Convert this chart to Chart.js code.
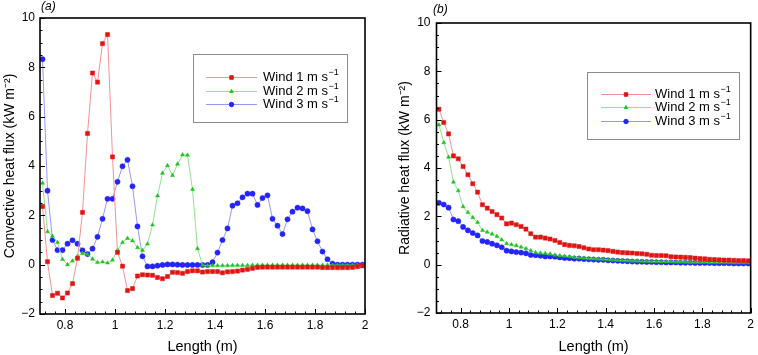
<!DOCTYPE html>
<html>
<head>
<meta charset="utf-8">
<script src="https://cdn.jsdelivr.net/npm/chart.js@4/dist/chart.umd.min.js"></script>
<style>
  html, body { margin: 0; padding: 0; background: #fff; }
  #wrap { position: relative; width: 758px; height: 355px; }
  canvas { position: absolute; top: 0; }
  #convChart { left: 0; }
  #radChart { left: 380px; }
</style>
</head>
<body>
<div id="wrap">
  <canvas id="convChart" width="380" height="355"></canvas>
  <canvas id="radChart" width="378" height="355"></canvas>
</div>
<script>
// sample positions along the plate (m)
const lengths = [0.71,0.73,0.75,0.77,0.79,0.81,0.83,0.85,0.87,0.89,0.91,0.93,0.95,0.97,0.99,
  1.01,1.03,1.05,1.07,1.09,1.11,1.13,1.15,1.17,1.19,1.21,1.23,1.25,1.27,1.29,
  1.31,1.33,1.35,1.37,1.39,1.41,1.43,1.45,1.47,1.49,1.51,1.53,1.55,1.57,1.59,
  1.61,1.63,1.65,1.67,1.69,1.71,1.73,1.75,1.77,1.79,1.81,1.83,1.85,1.87,1.89,
  1.91,1.93,1.95,1.97,1.99];

const seriesNames = ['Wind 1 m s\u207B\u00B9', 'Wind 2 m s\u207B\u00B9', 'Wind 3 m s\u207B\u00B9'];

// (a) convective heat flux, kW m-2
const convWind1 = [2.36,0.12,-1.25,-1.16,-1.35,-1.15,-0.77,0.26,2.12,5.32,7.77,7.40,8.96,9.33,4.37,
  0.50,-0.06,-1.05,-0.97,-0.46,-0.41,-0.42,-0.43,-0.52,-0.57,-0.48,-0.31,-0.32,-0.35,-0.28,
  -0.25,-0.25,-0.30,-0.28,-0.28,-0.28,-0.33,-0.29,-0.28,-0.26,-0.22,-0.19,-0.15,-0.11,-0.10,
  -0.10,-0.10,-0.10,-0.10,-0.10,-0.10,-0.10,-0.10,-0.10,-0.10,-0.10,-0.12,-0.12,-0.12,-0.12,
  -0.12,-0.12,-0.11,-0.08,-0.05];
const convWind2 = [3.31,1.34,1.16,0.90,0.22,0.00,0.15,0.35,0.46,0.42,0.23,0.09,0.11,0.07,0.19,
  0.59,0.90,1.07,0.97,0.69,0.58,0.84,1.61,2.79,3.71,4.02,3.62,4.08,4.45,4.44,
  3.05,0.65,-0.02,-0.04,-0.04,-0.04,-0.04,-0.04,-0.03,-0.03,-0.03,-0.03,-0.02,-0.02,-0.02,
  -0.02,-0.02,-0.02,-0.02,-0.02,-0.02,-0.02,-0.02,-0.02,-0.02,-0.02,-0.02,-0.02,-0.02,-0.02,
  -0.02,-0.02,-0.02,-0.02,-0.02];
const convWind3 = [8.33,3.00,1.00,0.59,0.59,0.85,0.99,0.85,0.58,0.43,0.65,1.13,1.86,2.67,2.67,
  3.36,3.99,4.25,3.18,1.55,0.34,-0.07,-0.07,-0.04,-0.01,0.01,0.01,0.00,-0.01,-0.01,
  -0.01,-0.01,-0.01,-0.01,0.10,0.49,1.00,1.47,2.39,2.49,2.73,2.88,2.88,2.42,2.70,
  2.81,1.86,1.58,1.24,1.84,2.15,2.31,2.28,2.17,1.43,0.95,0.53,0.22,0.04,0.00,
  0.00,0.00,0.00,0.00,0.00];

// (b) radiative heat flux, kW m-2
const radWind1 = [6.43,5.88,5.41,4.50,4.38,4.06,3.72,3.35,3.00,2.48,2.34,2.20,2.07,1.93,1.69,
  1.72,1.65,1.58,1.47,1.28,1.14,1.14,1.10,1.06,1.00,0.92,0.83,0.80,0.78,0.75,
  0.70,0.65,0.62,0.62,0.60,0.58,0.55,0.52,0.50,0.49,0.48,0.46,0.45,0.43,0.39,
  0.38,0.38,0.37,0.33,0.32,0.31,0.30,0.29,0.27,0.25,0.24,0.22,0.21,0.20,0.19,
  0.19,0.18,0.17,0.17,0.16];
const radWind2 = [5.79,5.05,4.45,3.42,3.06,2.40,2.16,1.95,1.75,1.42,1.35,1.27,1.17,1.03,0.87,
  0.83,0.79,0.73,0.67,0.58,0.50,0.48,0.47,0.44,0.40,0.37,0.35,0.33,0.30,0.28,
  0.27,0.25,0.24,0.23,0.22,0.20,0.19,0.18,0.17,0.16,0.15,0.15,0.14,0.14,0.13,
  0.13,0.12,0.12,0.12,0.11,0.11,0.11,0.10,0.10,0.10,0.10,0.09,0.09,0.09,0.09,
  0.09,0.08,0.08,0.08,0.08];
const radWind3 = [2.56,2.49,2.36,1.87,1.80,1.56,1.42,1.31,1.21,0.98,0.94,0.87,0.80,0.72,0.58,
  0.55,0.52,0.50,0.47,0.40,0.39,0.37,0.34,0.34,0.33,0.30,0.28,0.27,0.25,0.25,
  0.23,0.22,0.21,0.20,0.20,0.18,0.17,0.16,0.15,0.14,0.13,0.12,0.12,0.11,0.11,
  0.10,0.10,0.09,0.09,0.09,0.08,0.08,0.08,0.07,0.07,0.07,0.07,0.06,0.06,0.06,
  0.06,0.05,0.05,0.05,0.05];

const lengthTicks = [0.8, 1.0, 1.2, 1.4, 1.6, 1.8, 2.0];
const fluxTicks = [-2, 0, 2, 4, 6, 8, 10];

Chart.defaults.font.family = '"Liberation Sans", Arial, Helvetica, sans-serif';
Chart.defaults.color = '#000';

const styles = [
  { line: '#f29494', mark: '#e01414', shape: 'rect', r: 2.9 },
  { line: '#8ee68e', mark: '#1ec41e', shape: 'triangle', r: 2.3 },
  { line: '#9898f4', mark: '#2424ff', shape: 'circle', r: 2.6 },
];

function fmtTick(v) {
  const r = Math.round(v * 10) / 10;
  return r < 0 ? '\u2212' + Math.abs(r) : String(r);
}

// text with a trailing unicode superscript drawn as a real raised part
function drawSupText(ctx, text, x, y, size) {
  const m = text.match(/^(.*?)([\u207B\u00B9\u00B2]+)$/);
  const base = m ? m[1] : text;
  ctx.font = size + 'px "Liberation Sans", Arial, sans-serif';
  ctx.textBaseline = 'middle';
  ctx.textAlign = 'left';
  ctx.fillText(base, x, y);
  if (m) {
    const sup = m[2].replace('\u207B', '\u2212').replace('\u00B9', '1').replace('\u00B2', '2');
    const w = ctx.measureText(base).width;
    ctx.font = Math.round(size * 0.7) + 'px "Liberation Sans", Arial, sans-serif';
    ctx.fillText(sup, x + w + 0.5, y - size * 0.36);
  }
}

const innerTicks = {
  id: 'innerTicks',
  afterDraw(chart) {
    const { ctx, chartArea: a, scales: { x, y } } = chart;
    ctx.save();
    ctx.strokeStyle = '#000';
    ctx.lineWidth = 1;
    ctx.beginPath();
    for (let k = 18; k <= 50; k++) {
      const px = Math.round(x.getPixelForValue(k * 0.04)) + 0.5;
      const len = k % 5 === 0 ? 5 : 2.5;
      ctx.moveTo(px, a.bottom);
      ctx.lineTo(px, a.bottom - len);
    }
    for (let k = -4; k <= 20; k++) {
      const py = Math.round(y.getPixelForValue(k * 0.5)) + 0.5;
      const len = k % 4 === 0 ? 5 : 2.5;
      ctx.moveTo(a.left, py);
      ctx.lineTo(a.left + len, py);
    }
    ctx.stroke();
    ctx.lineWidth = 1.6;
    ctx.strokeRect(a.left, a.top, a.right - a.left, a.bottom - a.top);
    ctx.restore();
  }
};

const boxLegend = {
  id: 'boxLegend',
  afterDraw(chart, args, o) {
    const ctx = chart.ctx;
    ctx.save();
    ctx.fillStyle = '#fff';
    ctx.fillRect(o.box[0], o.box[1], o.box[2], o.box[3]);
    ctx.strokeStyle = '#8c8c8c';
    ctx.lineWidth = 1;
    ctx.strokeRect(o.box[0] + 0.5, o.box[1] + 0.5, o.box[2], o.box[3]);
    chart.data.datasets.forEach((ds, i) => {
      const yy = o.rows[i] + 0.5;
      ctx.strokeStyle = ds.borderColor;
      ctx.lineWidth = 1;
      ctx.beginPath();
      ctx.moveTo(o.lineX[0], yy);
      ctx.lineTo(o.lineX[1], yy);
      ctx.stroke();
      ctx.fillStyle = ds.pointBackgroundColor;
      ctx.strokeStyle = ds.pointBorderColor;
      Chart.helpers.drawPoint(ctx, {
        pointStyle: ds.pointStyle, radius: ds.pointRadius * 0.85, rotation: 0, borderWidth: 0.5
      }, (o.lineX[0] + o.lineX[1]) / 2, yy);
      ctx.fillStyle = '#000';
      drawSupText(ctx, ds.label, o.textX, o.rows[i] + 0.5, 13);
    });
    ctx.restore();
  }
};

const panelTag = {
  id: 'panelTag',
  afterDraw(chart, args, o) {
    const ctx = chart.ctx;
    ctx.save();
    ctx.fillStyle = '#000';
    ctx.textBaseline = 'middle';
    ctx.textAlign = 'left';
    ctx.font = 'italic 12px "Liberation Sans", Arial, sans-serif';
    ctx.fillText(o.text, o.x, o.y);
    ctx.restore();
  }
};

function makeChart(id, seriesList, yTitle, cfg) {
  const datasets = seriesList.map((vals, i) => ({
    label: seriesNames[i],
    data: lengths.map((len, j) => ({ x: len, y: vals[j] })),
    borderColor: styles[i].line,
    borderWidth: 1,
    backgroundColor: styles[i].mark,
    pointBackgroundColor: styles[i].mark,
    pointBorderColor: styles[i].mark,
    pointBorderWidth: 0.5,
    pointStyle: styles[i].shape,
    pointRadius: styles[i].r,
    tension: 0
  }));
  return new Chart(document.getElementById(id), {
    type: 'line',
    data: { datasets: datasets },
    options: {
      responsive: false,
      animation: false,
      layout: { padding: cfg.padding },
      scales: {
        x: {
          type: 'linear', min: 0.7, max: 2.0,
          afterBuildTicks: s => { s.ticks = lengthTicks.map(v => ({ value: v })); },
          afterFit: s => { s.height = cfg.xHeight; },
          grid: { display: false, drawTicks: false },
          border: { display: false },
          ticks: { font: { size: 12 }, padding: 4, maxRotation: 0, autoSkip: false, callback: v => fmtTick(v) },
          title: { display: true, text: 'Length (m)', font: { size: 14.5, lineHeight: 1 }, padding: { top: 0, bottom: 1 } }
        },
        y: {
          type: 'linear', min: -2, max: 10,
          afterBuildTicks: s => { s.ticks = fluxTicks.map(v => ({ value: v })); },
          afterFit: s => { s.width = cfg.yWidth; },
          grid: { display: false, drawTicks: false },
          border: { display: false },
          ticks: { font: { size: 12 }, padding: cfg.yPad, callback: v => fmtTick(v) },
          title: { display: true, text: yTitle, font: { size: 14 }, padding: { top: cfg.titlePad, bottom: 0 } }
        }
      },
      plugins: {
        legend: { display: false },
        tooltip: { enabled: false },
        boxLegend: cfg.legend,
        panelTag: cfg.tag
      }
    },
    plugins: [innerTicks, boxLegend, panelTag]
  });
}

makeChart('convChart', [convWind1, convWind2, convWind3], 'Convective heat flux (kW m\u207B\u00B2)', {
  padding: { top: 18, right: 15, left: 0, bottom: 0 },
  xHeight: 41, yWidth: 40, yPad: 5, titlePad: 2,
  legend: { box: [193, 54, 154, 68], rows: [77, 91, 104], lineX: [206, 257], textX: 263 },
  tag: { text: '(a)', x: 41, y: 7 }
});

makeChart('radChart', [radWind1, radWind2, radWind3], 'Radiative heat flux (kW m\u207B\u00B2)', {
  padding: { top: 23, right: 3, left: 15, bottom: 0 },
  xHeight: 42, yWidth: 41.5, yPad: 6, titlePad: 2,
  legend: { box: [207, 72, 152, 67], rows: [94, 107, 121], lineX: [221, 271], textX: 275 },
  tag: { text: '(b)', x: 53, y: 10 }
});
</script>
</body>
</html>
